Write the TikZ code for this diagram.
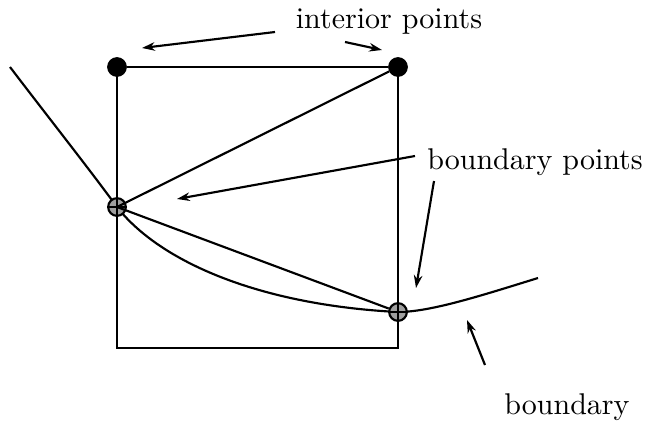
\documentclass[tikz,border=0pt]{standalone}
\usetikzlibrary{arrows.meta}
\begin{document}
\begin{tikzpicture}[x=0.35pt,y=-0.35pt,
  ln/.style={line width=0.75pt},
  ar/.style={line width=0.75pt,-{Stealth[length=4.5pt,width=3pt]}},
  ipt/.style={circle,fill=black,draw=black,inner sep=0pt,minimum size=6.5pt},
  bpt/.style={circle,fill=gray!75,draw=black,line width=0.75pt,inner sep=0pt,minimum size=6.2pt},
  lbl/.style={font=\fontsize{10.5}{12}\selectfont,inner sep=0pt}]
\useasboundingbox (0,0) rectangle (661,430);
% square
\coordinate (tl) at (117,67);
\coordinate (tr) at (398,67);
\coordinate (bl) at (117,348);
\coordinate (br) at (398,348);
\draw[ln] (tl) -- (bl) -- (br) -- (tr);
% curve
\coordinate (c0) at (10,67);
\coordinate (c3) at (538,278);
\draw[ln] (c0) .. controls (45,113) and (90,170) .. (117,207)
  .. controls (160,262) and (260,305) .. (398,312)
  .. controls (430,312) and (480,296) .. (c3);
% points
\node[ipt] (i1) at (tl) {};
\node[ipt] (i2) at (tr) {};
\node[bpt] (b1) at (117,207) {};
\node[bpt] (b2) at (398,312) {};
\draw[ln] (b1.center) -- (i2);
\draw[ln] (b1.center) -- (b2);
\draw[ln] (i1) -- (i2);
\draw[line width=0.6pt] (b1.north) -- (b1.south) (b1.west) -- (b1.east);
\draw[line width=0.6pt] (b2.north) -- (b2.south) (b2.west) -- (b2.east);
% labels
\node[lbl] (ip) at (389,22) {interior points};
\node[lbl] (bp) at (535,162) {boundary points};
\node[lbl] (bd) at (567,407) {boundary};
\coordinate (a1s) at (275,32); \coordinate (a1e) at (142,48);
\coordinate (a2s) at (345,42); \coordinate (a2e) at (382,50);
\coordinate (a3s) at (415,156); \coordinate (a3e) at (177,199);
\coordinate (a4s) at (434,181); \coordinate (a4e) at (416,288);
\coordinate (a5s) at (485,365); \coordinate (a5e) at (467,320);
\draw[ar] (a1s) -- (a1e);
\draw[ar] (a2s) -- (a2e);
\draw[ar] (a3s) -- (a3e);
\draw[ar] (a4s) -- (a4e);
\draw[ar] (a5s) -- (a5e);
\end{tikzpicture}
\end{document}
